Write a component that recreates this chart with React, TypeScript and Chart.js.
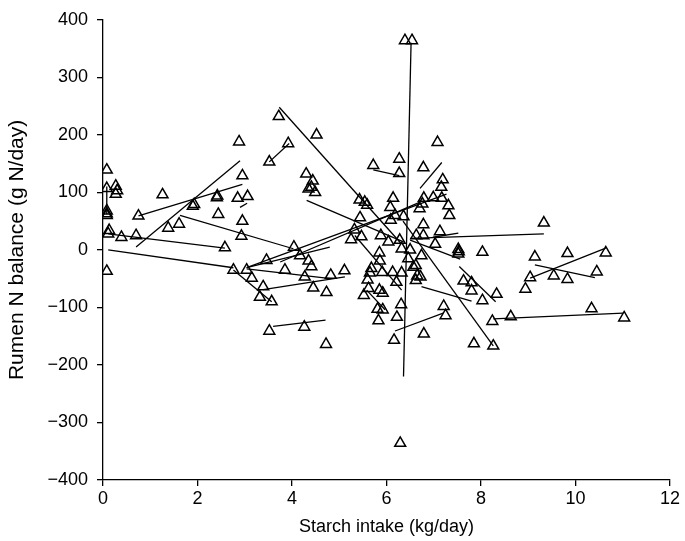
import React, { useEffect, useRef } from "react";
import { Chart, registerables } from "chart.js";

Chart.register(...registerables);

// Observations (triangles)
const pointX: number[] = [
  0.08, 0.08, 0.27, 0.27, 0.3, 0.08, 0.08, 0.08, 0.13, 0.11, 0.39, 0.7, 0.75, 1.26, 1.38, 1.61, 1.9, 1.93, 2.41, 2.42, 2.44, 2.88, 2.95, 2.85, 3.06, 2.95, 2.93, 2.58, 0.08,
  3.72, 3.92, 3.52, 4.52, 4.3, 4.44, 4.35, 4.41, 4.49,
  2.76, 3.04, 3.15, 3.46, 3.85, 4.04, 4.17, 4.35, 4.41, 4.27, 4.45, 4.73, 4.82, 5.11, 3.39, 3.32, 3.57, 3.52, 4.26, 4.72,
  5.43, 5.54, 5.59, 5.44, 5.32, 5.25, 5.47, 5.88, 6.04, 5.85, 5.86, 5.68, 5.65, 5.91, 6.13, 6.32, 5.6, 5.62, 5.52, 5.85, 5.92, 6.21, 5.81, 5.92, 5.83, 6.22, 6.31, 6.16, 6.14, 6.08, 6.09, 6.36, 6.18, 6.28, 6.32, 6.5, 6.46, 5.72, 6.27, 6.27, 6.39, 6.54, 6.29, 6.62,
  6.78, 7.08, 7.19, 7.16, 7.17, 6.99, 6.79, 6.76, 6.7, 7.31, 7.33, 6.78, 7.13, 6.63, 6.78, 7.03, 6.74, 6.57, 6.65, 6.72, 6.62, 7.52, 7.53, 7.52, 8.03, 7.63, 7.8, 7.8, 8.03, 8.33, 7.21, 7.25, 6.79, 7.85, 8.26, 8.24, 8.63, 10.34, 11.03, 9.33, 9.14, 9.83, 10.64, 9.04, 8.94, 9.54, 9.83, 10.45,
];
const pointY: number[] = [
  139, 107, 111, 97, 103, 68, 63, 60, 34, 28, 22, 25, 59, 96, 38, 45, 76, 79, 91, 94, 62, 188, 129, 90, 93, 50, 24, 4, -37,
  232, 185, 153, 200, 132, 120, 106, 109, 100,
  -35, -35, -49, -18, -35, 5, -10, -19, -29, -47, -66, -74, -44, -36, -64, -82, -90, -141, -134, -164,
  87, 83, 78, 56, 35, 18, 23, 25, 14, -5, -19, -32, -40, -39, -39, -40, -52, -67, -79, -70, -75, -56, -103, -104, -123, -117, -95, -157, 90, 74, 52, 58, 60, 17, 2, 0, -15, 147, 158, 133, 364, 364, -336, -27,
  143, 187, 122, 109, 90, 91, 90, 80, 72, 77, 60, 44, 32, 25, 25, 10, -10, -30, -45, -47, -53, 1, -3, -7, -4, -54, -57, -71, -88, -77, -98, -114, -146, -163, -167, -124, -116, -102, -118, 47, -12, -6, -5, -48, -68, -45, -51, -38,
];

// Fitted lines within studies (start / end)
const segX1: number[] = [3.73, 6.52, 0.75, 0.7, 1.63, 0.11, 0.11, 3.04, 3.52, 2.76, 3.04, 3.04, 4.31, 5.72, 6.71, 6.35, 6.5, 6.98, 6.5, 6.74, 7.54, 6.18, 8.26, 9.04, 9.14, 3.6, 3.39, 2.9, 0.08, 5.58, 5.33, 3.75];
const segY1: number[] = [248, 360, 59, 5, 60, 28, 0, -33, 153, -35, -31, -31, 86, 139, 107, 50, 20, 22, 17, -64, -29, -141, -120, -49, -26, -133, -69, 74, 62, -70, 25, -21];
const segX2: number[] = [6.3, 6.36, 2.95, 2.9, 4.03, 2.58, 2.76, 4.82, 3.94, 3.57, 7.27, 4.8, 6.36, 6.27, 7.17, 8.26, 9.33, 7.52, 7.56, 7.8, 8.31, 7.2, 11.01, 10.64, 10.41, 4.71, 5.12, 3.05, 0.08, 5.97, 6.32, 6.71];
const segY2: number[] = [12, -220, 114, 155, 2, 3, -31, -50, 185, -90, 97, 5, 14, 129, 152, -167, 28, 29, -16, -89, -90, -110, -110, 3, -48, -122, -47, 81, 110, -104, -70, 83];

const xTicksStep = 2;
const yTicksStep = 100;

const FONT = "'Liberation Sans', Arial, Helvetica, sans-serif";

export default function App() {
  const ref = useRef<HTMLCanvasElement | null>(null);
  useEffect(() => {
    document.body.style.margin = "0";
    const canvas = ref.current;
    if (!canvas) return;
    const datasets: any[] = [];
    for (let i = 0; i < segX1.length; i++) {
      datasets.push({
        type: "scatter",
        data: [
          { x: segX1[i], y: segY1[i] },
          { x: segX2[i], y: segY2[i] },
        ],
        showLine: true,
        borderColor: "#000",
        borderWidth: 1.3,
        pointRadius: 0,
        fill: false,
      });
    }
    datasets.push({
      type: "scatter",
      data: pointX.map((x, i) => ({ x, y: pointY[i] })),
      pointStyle: "triangle",
      pointRadius: 6.3,
      pointBorderWidth: 1.5,
      borderColor: "#000",
      backgroundColor: "rgba(0,0,0,0)",
      showLine: false,
    });
    const chart = new Chart(canvas, {
      type: "scatter",
      data: { datasets },
      options: {
        animation: false,
        responsive: false,
        layout: { padding: { top: 15, right: 15, left: 0, bottom: 0 } },
        plugins: { legend: { display: false }, tooltip: { enabled: false } },
        scales: {
          x: {
            type: "linear",
            min: 0,
            max: 12,
            afterFit: (axis: any) => {
              axis.height = 61;
            },
            ticks: {
              stepSize: xTicksStep,
              color: "#000",
              font: { family: FONT, size: 18 },
              padding: 2,
              maxRotation: 0,
            },
            grid: {
              drawOnChartArea: false,
              drawTicks: true,
              tickLength: 6,
              color: "#000",
              lineWidth: 1.3,
            },
            border: { display: true, color: "#000", width: 1.3 },
            title: {
              display: true,
              text: "Starch intake (kg/day)",
              color: "#000",
              font: { family: FONT, size: 18 },
              padding: { top: 0, bottom: 3 },
            },
          },
          y: {
            type: "linear",
            min: -400,
            max: 400,
            afterFit: (axis: any) => {
              axis.width = 103;
            },
            ticks: {
              stepSize: yTicksStep,
              color: "#000",
              font: { family: FONT, size: 18 },
              padding: 9,
              callback: (v: any) => (Number(v) < 0 ? "\u2212" + Math.abs(Number(v)) : String(v)),
            },
            grid: {
              drawOnChartArea: false,
              drawTicks: true,
              tickLength: 6,
              color: "#000",
              lineWidth: 1.3,
            },
            border: { display: true, color: "#000", width: 1.3 },
            title: {
              display: true,
              text: "Rumen N balance (g N/day)",
              color: "#000",
              font: { family: FONT, size: 21 },
              padding: { top: 5, bottom: 0 },
            },
          },
        },
      },
    });
    return () => chart.destroy();
  }, []);
  return (
    <div style={{ width: 685, height: 541, background: "#fff" }}>
      <canvas ref={ref} width={685} height={541} style={{ display: "block" }} />
    </div>
  );
}
